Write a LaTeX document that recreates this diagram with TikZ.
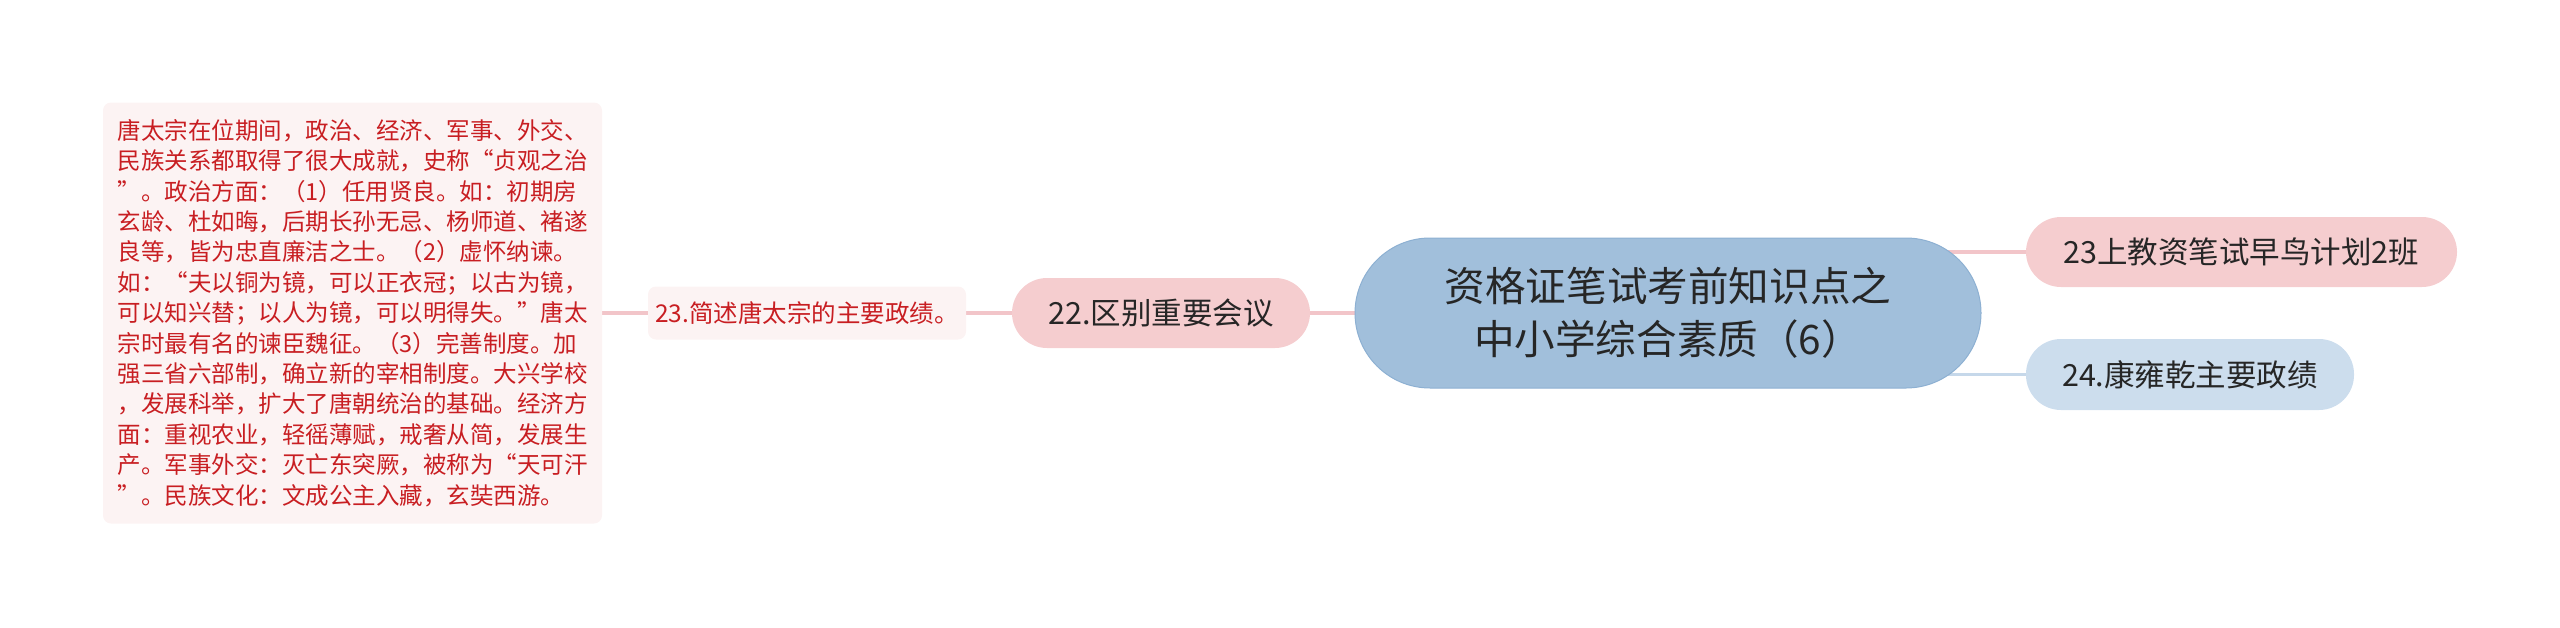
\documentclass[tikz,border=0pt]{standalone}
\usepackage{fontspec}
\newfontfamily\cjk{Noto Sans CJK SC}
\usetikzlibrary{backgrounds}
\definecolor{pinkfill}{HTML}{F5CDCF}
\definecolor{lightpink}{HTML}{FCF3F3}
\definecolor{rootblue}{HTML}{A1BFDB}
\definecolor{rootedge}{HTML}{8DB0D2}
\definecolor{bluefill}{HTML}{CCDDED}
\definecolor{conpink}{HTML}{F2C5C9}
\definecolor{conblue}{HTML}{C6D8EA}
\definecolor{txtred}{HTML}{C81E22}
\definecolor{txtdark}{HTML}{262626}
\tikzset{
  rootnode/.style={fill=rootblue, draw=rootedge, line width=1pt, rounded corners=75pt,
    minimum width=626pt, minimum height=150pt, inner sep=0pt, align=center,
    text=txtdark, font=\cjk\fontsize{40.6}{53}\selectfont},
  pillpink/.style={fill=pinkfill, rounded corners=35pt, minimum height=70pt, inner sep=0pt,
    text=txtdark, font=\cjk\fontsize{30.5}{36}\selectfont},
  pillblue/.style={fill=bluefill, rounded corners=35pt, minimum height=71pt, inner sep=0pt,
    text=txtdark, font=\cjk\fontsize{30.5}{36}\selectfont},
  leafbox/.style={fill=lightpink, rounded corners=8pt, inner sep=0pt, text=txtred},
  conp/.style={draw=conpink, line width=3.5pt},
  conb/.style={draw=conblue, line width=3.5pt}
}
\begin{document}
\begin{tikzpicture}[x=1pt,y=-1pt]
\useasboundingbox (0,0) rectangle (2560,627);
\node[rootnode] (c) at (1668,313) {资格证笔试考前知识点之\\中小学综合素质（6）};
\node[pillpink, minimum width=298pt] (n22) at (1161,313) {22.区别重要会议};
\node[leafbox, minimum width=318pt, minimum height=53pt, font=\cjk\fontsize{24.5}{28}\selectfont] (t23) at (807,313) {23.简述唐太宗的主要政绩。};
\node[leafbox, minimum width=499pt, minimum height=421pt, align=left, font=\cjk\fontsize{23.5}{30.4}\selectfont] (box) at (352.5,313) {%
唐太宗在位期间，政治、经济、军事、外交、\\%
民族关系都取得了很大成就，史称“贞观之治\\%
”。政治方面：（1）任用贤良。如：初期房\\%
玄龄、杜如晦，后期长孙无忌、杨师道、褚遂\\%
良等，皆为忠直廉洁之士。（2）虚怀纳谏。\\%
如：“夫以铜为镜，可以正衣冠；以古为镜，\\%
可以知兴替；以人为镜，可以明得失。”唐太\\%
宗时最有名的谏臣魏征。（3）完善制度。加\\%
强三省六部制，确立新的宰相制度。大兴学校\\%
，发展科举，扩大了唐朝统治的基础。经济方\\%
面：重视农业，轻徭薄赋，戒奢从简，发展生\\%
产。军事外交：灭亡东突厥，被称为“天可汗\\%
”。民族文化：文成公主入藏，玄奘西游。};
\node[pillpink, minimum width=431pt] (r1) at (2241.5,252) {23上教资笔试早鸟计划2班};
\node[pillblue, minimum width=328pt] (r2) at (2190,374.5) {24.康雍乾主要政绩};
\begin{scope}[on background layer]
\draw[conp] (box.east) -- (t23.west);
\draw[conp] (t23.east) -- (n22.west);
\draw[conp] (n22.east) -- (c.west);
\draw[conp] (c.center |- r1.west) -- (r1.west);
\draw[conb] (c.center |- r2.west) -- (r2.west);
\end{scope}
\end{tikzpicture}
\end{document}
